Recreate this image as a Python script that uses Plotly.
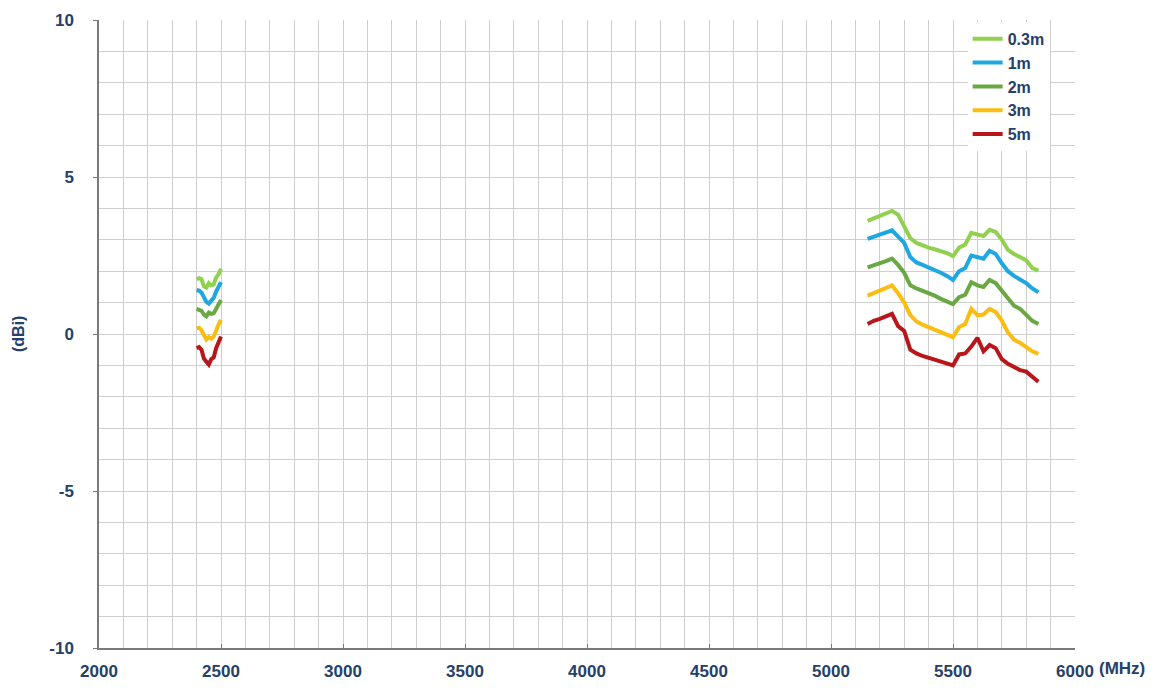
import plotly.graph_objects as go

# ---- data ----
freq_24 = [2400, 2410, 2420, 2430, 2440, 2450, 2460, 2470, 2480, 2490, 2500]
freq_5 = list(range(5150, 5851, 25))

series_names = ["0.3m", "1m", "2m", "3m", "5m"]
series_colors = ["#92d050", "#1ea7e1", "#6aa843", "#fbbd12", "#b8161b"]

gain_24_03m = [1.75, 1.78, 1.75, 1.52, 1.48, 1.62, 1.55, 1.58, 1.80, 1.90, 2.08]
gain_24_1m = [1.40, 1.38, 1.32, 1.15, 1.02, 0.97, 1.08, 1.15, 1.35, 1.50, 1.65]
gain_24_2m = [0.80, 0.78, 0.74, 0.62, 0.56, 0.68, 0.64, 0.66, 0.82, 0.95, 1.08]
gain_24_3m = [0.18, 0.20, 0.12, -0.05, -0.18, -0.10, -0.15, -0.08, 0.15, 0.30, 0.45]
gain_24_5m = [-0.45, -0.42, -0.50, -0.78, -0.88, -0.97, -0.80, -0.75, -0.45, -0.25, -0.08]

gain_5_03m = [3.60, 3.68, 3.75, 3.85, 3.92, 3.80, 3.45, 3.05, 2.90, 2.82, 2.75, 2.70, 2.64, 2.58,
              2.48, 2.75, 2.85, 3.22, 3.17, 3.12, 3.32, 3.25, 3.00, 2.68, 2.55, 2.45, 2.35, 2.10, 2.02]
gain_5_1m = [3.03, 3.10, 3.15, 3.22, 3.30, 3.10, 2.90, 2.45, 2.28, 2.20, 2.12, 2.05, 1.95, 1.85,
             1.72, 2.00, 2.10, 2.50, 2.45, 2.40, 2.65, 2.55, 2.25, 2.00, 1.85, 1.72, 1.62, 1.45, 1.33]
gain_5_2m = [2.12, 2.18, 2.25, 2.32, 2.40, 2.20, 1.95, 1.55, 1.45, 1.38, 1.30, 1.22, 1.12, 1.03,
             0.95, 1.17, 1.25, 1.65, 1.55, 1.50, 1.72, 1.62, 1.38, 1.10, 0.90, 0.80, 0.62, 0.42, 0.32]
gain_5_3m = [1.22, 1.30, 1.38, 1.45, 1.55, 1.30, 1.00, 0.60, 0.40, 0.30, 0.22, 0.15, 0.08, 0.00,
             -0.10, 0.22, 0.32, 0.80, 0.60, 0.62, 0.80, 0.70, 0.43, 0.05, -0.18, -0.28, -0.40, -0.55, -0.63]
gain_5_5m = [0.32, 0.42, 0.48, 0.55, 0.64, 0.25, 0.10, -0.50, -0.62, -0.70, -0.76, -0.82, -0.88, -0.93,
             -1.00, -0.65, -0.62, -0.40, -0.12, -0.55, -0.35, -0.45, -0.80, -0.95, -1.05, -1.15, -1.20, -1.35, -1.52]

x_tick_vals = [2000, 2500, 3000, 3500, 4000, 4500, 5000, 5500, 6000]
x_tick_text = ["2000", "2500", "3000", "3500", "4000", "4500", "5000", "5500", "6000"]
y_tick_vals = [-10, -5, 0, 5, 10]
y_tick_text = ["-10", "-5", "0", "5", "10"]

gains_24 = [gain_24_03m, gain_24_1m, gain_24_2m, gain_24_3m, gain_24_5m]
gains_5 = [gain_5_03m, gain_5_1m, gain_5_2m, gain_5_3m, gain_5_5m]

text_color = "#24406b"
font_fam = "Liberation Sans, Arial, sans-serif"

fig = go.Figure()
for name, color, g24, g5 in zip(series_names, series_colors, gains_24, gains_5):
    # 2.4 GHz band segment, a gap, then 5 GHz band segment
    xs = freq_24 + [None] + freq_5
    ys = g24 + [None] + g5
    fig.add_trace(go.Scatter(x=xs, y=ys, mode="lines", name=name,
                             line=dict(color=color, width=4), connectgaps=False))

fig.update_layout(
    width=1160, height=690,
    margin=dict(l=91, r=93, t=12, b=50, autoexpand=False),
    paper_bgcolor="white", plot_bgcolor="white",
    showlegend=True,
    legend=dict(x=0.89, y=0.997, xanchor="left", yanchor="top",
                bgcolor="white", borderwidth=0,
                font=dict(family=font_fam, size=16, color=text_color, weight="bold"),
                tracegroupgap=0, itemwidth=30),
    font=dict(family=font_fam, color=text_color),
)

fig.update_xaxes(
    range=[2000, 6000], tickvals=x_tick_vals, ticktext=x_tick_text,
    showgrid=True, gridcolor="#cfcfcf", gridwidth=1,
    minor=dict(dtick=100, showgrid=True, gridcolor="#cfcfcf", gridwidth=1),
    showline=True, linecolor="#7a7a7a", linewidth=1.5,
    ticks="inside", ticklen=4, tickcolor="#7a7a7a",
    tickfont=dict(family=font_fam, size=17, color=text_color, weight="bold"),
    ticklabelstandoff=7, zeroline=False, automargin=False,
)
fig.update_yaxes(
    range=[-10, 10], tickvals=y_tick_vals, ticktext=y_tick_text,
    showgrid=True, gridcolor="#cfcfcf", gridwidth=1,
    minor=dict(dtick=1, showgrid=True, gridcolor="#cfcfcf", gridwidth=1),
    showline=True, linecolor="#7a7a7a", linewidth=1.5,
    ticks="outside", ticklen=4, tickcolor="#7a7a7a",
    tickfont=dict(family=font_fam, size=17, color=text_color, weight="bold"),
    ticklabelstandoff=16, zeroline=False, automargin=False,
)

fig.add_annotation(text="(dBi)", xref="paper", yref="paper", x=-0.083, y=0.5,
                   textangle=-90, showarrow=False, xanchor="center", yanchor="middle",
                   font=dict(family=font_fam, size=16, color=text_color, weight="bold"))
fig.add_annotation(text="(MHz)", xref="paper", yref="paper", x=1.0, y=0, xshift=22, yshift=-20,
                   showarrow=False, xanchor="left", yanchor="middle",
                   font=dict(family=font_fam, size=17, color=text_color, weight="bold"))

fig.write_html("out.html")
